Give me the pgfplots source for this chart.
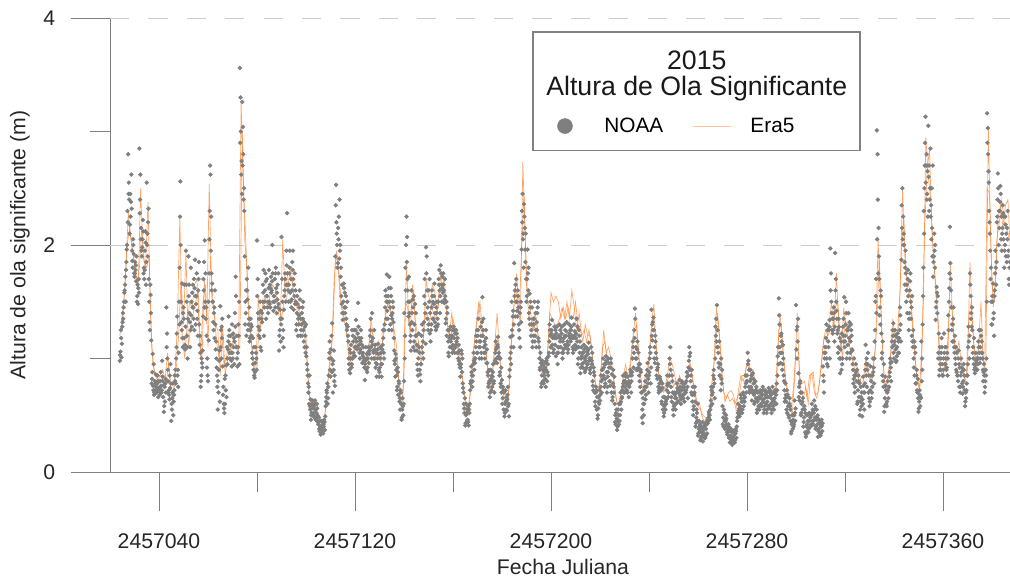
\documentclass[border=0pt]{standalone}
\usepackage{pgfplots}
\usepackage{pgfplotstable}
\usepackage{fontspec}
\setmainfont{Liberation Sans}
\pgfplotsset{compat=1.18}
\definecolor{axg}{HTML}{808080}
\definecolor{dot}{HTML}{7F7F7F}
\definecolor{era}{HTML}{FF7F27}
% NOAA: day (JD-2457000), seven samples per day in cm
\pgfplotstableread{
d a b c e f g h
24 98 106 125 101 113 103 118
25 128 140 135 150 158 132 145
26 160 172 150 185 196 165 178
27 200 220 280 255 240 230 245
28 210 245 225 262 232 218 238
29 195 180 205 192 175 186 200
30 172 185 178 168 190 175 182
31 150 165 148 170 158 155 162
32 285 240 262 215 195 228 205
33 190 205 222 175 180 198 212
34 170 195 212 165 185 178 202
35 255 210 190 232 170 200 220
36 150 125 165 140 116 132 156
37 78 88 104 72 95 82 76
38 68 80 72 86 75 70 78
39 70 78 85 66 74 72 80
40 72 68 80 88 76 74 70
41 70 98 84 66 76 72 80
42 53 75 62 82 70 58 78
43 145 122 100 80 70 110 90
44 72 64 85 95 78 68 74
45 45 55 65 78 50 60 70
46 62 72 85 90 78 68 80
47 100 122 137 90 75 110 85
48 105 130 180 256 200 150 225
49 150 125 166 110 140 132 118
50 145 118 165 108 128 135 112
51 195 150 120 100 135 165 110
52 190 165 140 110 125 155 132
53 180 150 128 145 165 138 158
54 145 170 125 187 155 135 162
55 130 155 175 142 120 148 135
56 160 185 130 120 105 170 112
57 75 85 100 92 107 80 96
58 137 160 185 204 150 170 145
59 175 145 120 100 85 135 92
60 80 116 175 230 270 150 205
61 262 225 175 166 150 195 160
62 150 125 140 118 160 132 145
63 130 115 100 85 75 108 92
64 55 70 90 107 62 80 98
65 146 125 100 118 135 110 128
66 93 75 60 52 82 68 56
67 60 72 94 110 100 85 66
68 95 115 137 125 105 108 120
69 100 120 105 93 130 112 98
70 105 122 110 95 115 100 118
71 140 172 155 120 100 128 110
72 93 110 130 150 95 105 120
73 356 330 300 274 245 290 262
74 326 304 280 250 230 270 240
75 190 150 140 120 170 130 160
76 160 125 180 135 145 152 130
77 115 125 135 120 128 118 130
78 105 118 95 110 85 100 90
79 83 96 110 100 90 88 105
80 204 170 140 120 135 155 128
81 125 150 110 107 135 118 142
82 140 150 165 178 120 132 158
83 145 160 175 135 155 150 168
84 170 145 150 162 178 155 140
85 150 165 145 172 158 148 162
86 160 200 175 142 155 168 150
87 155 170 145 180 162 150 175
88 140 152 165 175 148 158 145
89 107 125 143 115 130 120 135
90 207 170 150 125 110 135 118
91 143 160 175 150 165 155 170
92 195 228 175 160 150 182 165
93 165 180 195 150 170 175 158
94 145 160 185 195 170 152 178
95 143 155 175 160 150 165 148
96 125 140 155 120 135 130 148
97 130 145 160 120 135 138 152
98 125 140 120 135 150 130 145
99 125 132 110 120 105 115 128
100 130 110 95 85 78 102 90
101 70 60 85 55 64 75 58
102 46 52 60 63 56 50 58
103 50 58 48 63 55 52 60
104 46 52 60 50 44 48 56
105 42 48 38 45 40 44 36
106 33 38 45 36 42 35 40
107 34 40 46 37 49 42 44
108 58 66 72 78 60 62 70
109 65 85 100 115 90 75 105
110 84 100 120 131 95 108 88
111 70 90 107 85 76 98 80
112 190 253 220 200 180 235 210
113 184 205 225 240 195 215 188
114 200 180 155 165 140 172 148
115 134 150 166 145 158 140 162
116 140 155 135 125 150 145 130
117 128 115 100 90 108 120 95
118 87 100 112 95 125 105 92
119 100 115 105 125 110 120 102
120 102 125 134 115 108 118 110
121 110 149 128 118 105 122 112
122 100 115 125 105 112 108 118
123 96 105 110 100 92 102 98
124 81 98 110 90 104 95 100
125 88 100 110 96 104 92 106
126 107 125 135 115 100 120 110
127 140 118 107 100 125 112 105
128 100 112 92 105 84 108 96
129 95 108 113 90 84 100 104
130 88 100 110 95 84 92 105
131 95 112 125 105 100 108 118
132 125 145 160 135 150 130 155
133 174 150 135 162 125 142 155
134 172 145 130 155 138 150 162
135 125 140 150 132 118 135 145
136 107 95 84 100 90 98 104
137 85 75 92 68 80 72 88
138 78 65 55 70 60 62 72
139 46 55 65 50 60 48 58
140 80 100 120 160 200 140 180
141 225 207 170 150 137 185 160
142 172 150 130 120 107 140 115
143 160 140 125 145 110 132 152
144 155 130 107 120 140 115 148
145 120 107 95 85 100 112 90
146 122 105 90 80 95 110 86
147 95 110 130 115 100 120 105
148 125 155 170 140 113 132 148
149 198 190 160 145 125 175 135
150 130 150 170 140 115 160 122
151 125 145 160 135 150 130 155
152 135 155 166 140 128 148 132
153 125 140 150 135 130 145 128
154 150 165 178 140 155 170 160
155 182 165 150 172 158 175 162
156 175 160 149 170 155 165 152
157 131 150 120 140 125 135 145
158 115 102 125 110 120 105 118
159 128 110 118 105 125 115 120
160 112 128 118 105 122 108 125
161 110 125 115 105 118 112 122
162 105 112 98 107 92 100 95
163 84 95 107 88 100 92 104
164 78 70 60 52 65 74 56
165 41 50 60 45 55 43 52
166 46 58 41 52 60 44 55
167 72 80 93 85 75 78 88
168 80 95 105 90 100 85 98
169 96 110 120 105 125 100 115
170 105 125 135 115 100 120 110
171 110 128 120 100 132 115 105
172 154 125 135 105 115 120 110
173 100 112 125 96 108 105 118
174 96 85 75 90 80 88 78
175 66 80 90 72 85 70 82
176 75 88 95 80 70 84 78
177 96 105 115 100 110 98 108
178 96 110 119 105 100 112 102
179 85 100 78 92 70 88 75
180 81 65 75 55 70 60 72
181 49 60 72 55 66 52 62
182 54 68 75 60 49 64 58
183 84 100 119 95 110 90 105
184 150 120 137 110 130 125 142
185 184 160 137 150 170 155 165
186 150 137 160 145 130 142 155
187 125 140 110 150 132 118 145
188 196 220 245 210 180 230 205
189 236 215 196 210 170 225 185
190 150 170 196 160 180 155 175
191 140 157 130 150 120 135 145
192 125 145 110 135 120 130 115
193 130 150 115 140 125 135 120
194 110 125 140 150 118 132 145
195 115 100 90 105 96 110 92
196 75 85 98 80 90 78 94
197 78 88 96 82 75 85 92
198 90 100 80 95 85 98 88
199 102 115 130 120 110 105 125
200 110 125 134 118 105 122 112
201 105 120 128 112 125 108 118
202 102 118 128 95 110 122 105
203 105 120 130 115 125 110 118
204 110 122 128 100 115 118 105
205 105 118 130 112 125 108 120
206 110 124 132 115 105 120 112
207 108 120 130 118 125 112 122
208 115 128 136 120 110 125 118
209 105 118 130 124 112 108 120
210 108 122 135 115 128 118 110
211 95 110 125 105 115 100 120
212 87 100 110 95 105 92 102
213 92 105 112 100 88 96 108
214 90 102 110 95 106 98 92
215 95 108 114 100 90 104 98
216 87 100 110 95 105 92 98
217 80 72 92 85 70 76 88
218 62 70 75 55 66 58 72
219 47 56 66 60 72 50 62
220 63 75 85 70 90 68 80
221 90 100 85 95 75 82 92
222 82 95 102 88 70 78 98
223 75 88 100 92 80 84 96
224 80 92 100 70 86 76 96
225 63 78 90 70 84 66 75
226 60 50 42 55 47 44 52
227 37 45 55 42 60 40 50
228 45 60 70 55 65 50 62
229 66 75 85 70 80 72 78
230 70 80 87 72 78 75 84
231 72 84 78 66 80 70 76
232 75 85 90 70 80 78 88
233 85 100 115 92 105 88 110
234 125 144 135 110 90 118 100
235 100 115 90 105 95 108 92
236 85 95 75 88 70 80 90
237 70 55 43 60 50 48 65
238 60 75 80 68 85 72 64
239 75 90 96 82 70 85 78
240 85 100 110 78 92 88 105
241 143 130 116 125 136 120 132
242 125 110 96 115 105 100 120
243 100 90 82 95 75 85 92
244 70 78 84 74 80 72 82
245 72 60 78 55 66 62 74
246 49 58 66 55 62 52 60
247 60 72 85 78 66 64 76
248 70 85 100 110 90 78 95
249 75 62 85 70 55 66 80
250 50 60 70 65 55 58 68
251 60 70 78 62 72 65 74
252 62 70 81 75 66 72 68
253 60 72 80 68 75 64 78
254 65 75 62 78 70 68 72
255 70 80 88 75 65 72 84
256 85 98 110 90 105 92 102
257 80 70 90 62 75 85 68
258 50 58 68 75 62 55 70
259 40 48 55 45 60 43 52
260 32 38 45 36 42 34 40
261 28 35 40 32 44 30 38
262 27 33 38 30 42 35 40
263 30 38 44 34 46 32 42
264 43 48 53 50 46 45 51
265 55 63 75 68 60 58 72
266 70 85 90 78 65 75 82
267 100 120 135 147 110 128 115
268 125 105 96 115 85 110 92
269 85 72 100 78 90 95 82
270 58 48 40 52 45 42 55
271 38 45 50 42 35 40 47
272 33 38 42 30 36 35 40
273 26 32 38 28 35 30 36
274 24 30 36 28 34 26 32
275 26 34 38 30 40 28 36
276 45 52 60 50 56 48 54
277 49 58 68 55 62 52 65
278 52 62 70 58 65 55 68
279 62 75 85 70 80 66 78
280 85 105 95 75 90 80 98
281 70 80 90 75 85 72 82
282 63 72 87 78 68 70 82
283 60 70 80 65 75 62 72
284 52 62 70 58 66 55 64
285 55 65 72 60 68 58 70
286 58 68 75 62 52 64 72
287 55 65 72 60 70 58 68
288 52 62 70 58 74 55 66
289 56 66 72 60 68 58 70
290 52 64 75 58 70 55 62
291 55 65 72 60 68 62 70
292 60 72 85 110 95 78 102
293 153 130 110 96 120 138 105
294 122 105 90 112 100 115 95
295 85 72 62 78 68 80 65
296 62 72 52 66 58 55 68
297 50 60 65 55 45 48 58
298 34 42 50 38 46 36 44
299 40 50 63 45 56 42 52
300 147 125 100 115 135 108 128
301 87 75 63 80 70 66 78
302 50 60 70 55 65 52 62
303 40 48 58 35 52 44 55
304 31 40 50 36 45 33 42
305 35 45 52 40 48 38 50
306 40 50 60 45 55 42 52
307 42 52 63 48 58 45 55
308 38 46 55 42 50 40 48
309 31 38 46 34 42 36 44
310 32 40 46 36 43 34 41
311 93 80 70 100 110 85 105
312 105 118 130 95 125 110 100
313 93 110 125 134 100 115 128
314 197 175 150 125 135 160 140
315 122 135 145 115 128 125 140
316 193 170 150 135 122 160 142
317 125 110 135 100 118 105 128
318 87 100 115 122 95 108 90
319 100 120 135 154 110 128 115
320 115 130 150 100 125 120 140
321 105 125 140 118 132 112 128
322 100 115 130 120 108 105 125
323 107 90 78 100 85 95 82
324 70 85 95 80 90 75 88
325 60 72 85 66 78 62 80
326 50 62 75 58 70 55 66
327 49 60 84 70 55 64 76
328 70 90 112 85 100 78 95
329 75 95 105 85 65 90 70
330 58 72 93 80 65 62 85
331 70 85 100 92 78 75 88
332 100 125 150 170 140 115 155
333 301 280 240 215 190 205 175
334 170 145 130 155 122 138 160
335 100 85 115 75 95 105 80
336 53 65 84 72 60 58 76
337 58 70 80 65 75 62 72
338 75 88 100 92 80 84 96
339 97 110 125 131 105 115 120
340 100 115 125 108 97 112 120
341 98 110 122 105 115 102 118
342 105 125 145 130 115 118 138
343 187 215 250 225 200 235 205
344 210 185 165 195 175 200 180
345 150 165 140 178 155 160 170
346 125 140 160 175 150 135 168
347 135 120 155 110 125 145 115
348 100 115 85 105 78 92 110
349 78 90 72 82 65 85 70
350 53 62 72 58 66 56 68
351 65 80 100 130 155 115 90
352 180 210 250 290 313 230 270
353 255 280 240 265 225 270 245
354 305 270 230 250 285 260 240
355 225 205 250 190 270 235 215
356 172 190 210 180 200 185 195
357 134 150 163 140 155 145 158
358 100 122 85 110 95 105 90
359 90 105 118 95 85 100 110
360 85 100 122 95 110 90 105
361 95 110 90 105 85 100 92
362 100 125 150 175 216 138 162
363 184 160 145 130 115 170 125
364 130 145 115 105 120 135 110
365 100 110 90 105 85 95 88
366 85 100 107 75 92 80 95
367 70 85 100 92 78 75 88
368 69 80 95 85 72 75 90
369 58 70 65 78 85 62 72
370 85 110 128 100 120 95 115
371 175 155 135 128 145 165 140
372 125 110 100 118 90 105 95
373 87 95 105 90 100 92 98
374 90 100 115 125 105 95 110
375 96 110 125 105 115 100 120
376 105 90 80 95 85 100 88
377 70 80 90 100 150 75 85
378 316 303 280 255 230 290 265
379 220 195 170 150 130 210 180
380 130 150 166 140 120 155 135
381 155 175 195 165 185 160 180
382 220 240 263 200 230 225 250
383 215 238 252 205 225 230 245
384 195 215 235 205 225 210 228
385 180 200 225 190 210 195 218
386 185 205 230 195 170 215 190
387 165 185 205 175 195 180 200
}\noaa
% Era5: day and two readings per day in cm
\pgfplotstableread{
d u v
24 120 131
25 135 145
26 160 180
27 200 230
28 215 205
29 200 190
30 185 175
31 165 160
32 180 250
33 215 190
34 185 180
35 180 238
36 190 140
37 110 95
38 90 85
39 85 80
40 80 85
41 82 90
42 78 82
43 80 105
44 95 80
45 72 62
46 72 85
47 90 130
48 120 225
49 170 120
50 130 100
51 193 130
52 110 150
53 130 145
54 140 165
55 150 170
56 160 120
57 100 95
58 150 170
59 165 130
60 110 254
61 190 155
62 150 140
63 130 115
64 125 100
65 85 125
66 130 95
67 85 100
68 100 115
69 110 105
70 110 120
71 115 110
72 110 105
73 110 326
74 300 250
75 205 200
76 175 140
77 125 120
78 110 95
79 90 85
80 90 155
81 140 125
82 135 150
83 155 150
84 150 145
85 150 160
86 150 165
87 150 160
88 150 145
89 145 130
90 135 205
91 150 155
92 150 175
93 170 175
94 180 165
95 155 150
96 150 145
97 130 140
98 135 125
99 130 120
100 120 95
101 75 65
102 60 62
103 62 58
104 52 48
105 45 42
106 42 40
107 42 45
108 55 70
109 80 95
110 100 110
111 125 170
112 190 195
113 185 175
114 150 145
115 145 135
116 130 125
117 115 100
118 95 105
119 105 100
120 110 125
121 120 115
122 115 105
123 105 100
124 100 105
125 100 95
126 120 135
127 125 118
128 110 100
129 105 115
130 100 95
131 110 125
132 130 140
133 145 150
134 150 140
135 135 130
136 125 105
137 110 90
138 75 62
139 58 55
140 85 150
141 185 145
142 130 120
143 145 165
144 160 135
145 110 120
146 115 105
147 95 110
148 120 135
149 170 140
150 155 130
151 150 165
152 140 160
153 135 140
154 145 165
155 175 165
156 160 170
157 150 135
158 125 120
159 115 140
160 135 120
161 125 115
162 112 100
163 100 90
164 80 70
165 62 55
166 52 50
167 70 85
168 95 110
169 120 130
170 135 150
171 150 125
172 125 120
173 115 105
174 95 85
175 75 70
176 85 95
177 110 120
178 140 115
179 105 90
180 75 65
181 65 60
182 62 60
183 75 105
184 120 135
185 150 165
186 175 145
187 140 130
188 195 273
189 245 205
190 165 150
191 135 145
192 135 125
193 125 140
194 135 125
195 115 100
196 95 85
197 85 80
198 85 100
199 120 140
200 158 135
201 150 130
202 155 130
203 150 135
204 135 145
205 145 135
206 135 150
207 145 135
208 135 160
209 135 145
210 150 125
211 130 140
212 125 120
213 115 125
214 130 115
215 120 125
216 120 110
217 100 90
218 80 70
219 70 72
220 80 90
221 110 125
222 115 105
223 100 110
224 95 100
225 90 85
226 75 65
227 60 58
228 62 70
229 75 85
230 85 95
231 85 80
232 85 100
233 105 120
234 125 140
235 130 110
236 100 85
237 75 70
238 70 85
239 85 90
240 95 115
241 130 135
242 148 125
243 105 95
244 85 80
245 78 75
246 70 75
247 75 85
248 85 100
249 90 95
250 75 85
251 80 75
252 75 85
253 80 78
254 75 78
255 78 85
256 85 95
257 95 85
258 80 72
259 68 60
260 58 62
261 55 50
262 50 45
263 48 45
264 45 50
265 60 75
266 85 95
267 105 145
268 140 125
269 115 95
270 80 70
271 62 65
272 68 70
273 62 72
274 65 68
275 60 55
276 65 72
277 70 85
278 85 80
279 85 90
280 95 100
281 90 85
282 85 90
283 82 78
284 75 70
285 70 72
286 72 70
287 72 68
288 70 72
289 70 68
290 68 72
291 70 68
292 72 105
293 125 140
294 130 110
295 100 85
296 78 72
297 68 60
298 55 50
299 75 85
300 110 140
301 105 80
302 70 78
303 65 80
304 75 65
305 60 85
306 85 87
307 88 70
308 68 65
309 70 78
310 85 100
311 110 120
312 125 115
313 120 130
314 125 150
315 130 125
316 145 175
317 150 125
318 120 105
319 100 145
320 135 125
321 120 115
322 110 105
323 100 95
324 90 95
325 85 90
326 80 78
327 85 80
328 85 100
329 95 85
330 85 80
331 80 95
332 100 110
333 130 205
334 190 150
335 125 100
336 80 70
337 75 85
338 90 100
339 110 135
340 125 115
341 118 125
342 130 160
343 195 250
344 225 185
345 175 160
346 165 155
347 150 130
348 120 100
349 90 85
350 75 72
351 80 120
352 150 215
353 295 265
354 260 285
355 240 210
356 195 180
357 160 150
358 135 100
359 90 85
360 85 90
361 95 100
362 100 140
363 185 150
364 130 115
365 110 105
366 100 115
367 100 95
368 90 85
369 80 85
370 90 135
371 185 150
372 130 115
373 100 95
374 100 110
375 120 150
376 115 95
377 85 95
378 250 305
379 245 200
380 165 145
381 150 170
382 205 225
383 220 235
384 240 215
385 220 235
386 215 240
387 205 195
}\eradata
\begin{document}
\begin{tikzpicture}
\useasboundingbox (-82.5pt,-81pt) rectangle (675pt,354pt);
\begin{axis}[
  scale only axis, width=675pt, height=340.5pt,
  xmin=20, xmax=387.35, ymin=0, ymax=4,
  axis x line*=bottom, axis y line*=left,
  axis line style={-, draw=axg, line width=0.7pt},
  xtick={40,120,200,280,360},
  xticklabels={2457040,2457120,2457200,2457280,2457360},
  minor xtick={80,160,240,320},
  ytick={0,2,4}, minor ytick={1,3},
  major tick length=29.5pt, minor tick length=15pt,
  tick style={draw=axg, line width=0.7pt},
  every tick/.style={draw=axg, line width=0.7pt},
  minor tick style={draw=axg, line width=0.7pt},
  tick align=outside,
  tick label style={font=\fontsize{15.9pt}{18pt}\selectfont, text=black!85},
  /pgf/number format/assume math mode=true,
  xticklabel shift=13pt,
  yticklabel shift=8pt,
  xlabel={Fecha Juliana},
  ylabel={Altura de ola significante (m)},
  xlabel style={font=\fontsize{15.9pt}{18pt}\selectfont, text=black!85, at={(axis description cs:0.5033,0)}, anchor=center, yshift=-71pt},
  ylabel style={font=\fontsize{15.9pt}{18pt}\selectfont, text=black!85, at={(axis description cs:0,0.5)}, anchor=center, yshift=67.5pt},
  legend style={draw=none, fill=none, at={(rel axis cs:0.4922,0.762)}, anchor=west,
    font=\fontsize{15.6pt}{18pt}\selectfont, legend columns=2,
    /tikz/every even column/.append style={column sep=20pt}},
  legend cell align=left,
]
\addplot[forget plot, color=black!20, line width=0.7pt, dash pattern=on 14.4pt off 14.4pt] coordinates {(20,2)(387.35,2)};
\addplot[forget plot, color=black!20, line width=0.7pt, dash pattern=on 14.4pt off 14.4pt] coordinates {(20,4)(387.35,4)};
\pgfplotsset{nm/.style={only marks, mark=*, mark size=1.45pt, color=dot, mark options={draw=none, fill=dot}}}
\addplot[nm, forget plot] table[x expr=\thisrow{d}, y expr=\thisrow{a}/100] {\noaa};
\addplot[nm, forget plot] table[x expr=\thisrow{d}+0.14, y expr=\thisrow{g}/100] {\noaa};
\addplot[nm, forget plot] table[x expr=\thisrow{d}+0.28, y expr=\thisrow{b}/100] {\noaa};
\addplot[nm, forget plot] table[x expr=\thisrow{d}+0.42, y expr=\thisrow{c}/100] {\noaa};
\addplot[nm, forget plot] table[x expr=\thisrow{d}+0.56, y expr=\thisrow{h}/100] {\noaa};
\addplot[nm, forget plot] table[x expr=\thisrow{d}+0.70, y expr=\thisrow{e}/100] {\noaa};
\addplot[nm, forget plot] table[x expr=\thisrow{d}+0.84, y expr=\thisrow{f}/100] {\noaa};
\addplot[forget plot, color=era, opacity=0.7, line width=0.5pt, no marks] table[x expr=\thisrow{d}, y expr=\thisrow{u}/100] {\eradata};
\addplot[forget plot, color=era, opacity=0.7, line width=0.5pt, no marks] table[x expr=\thisrow{d}+0.5, y expr=\thisrow{v}/100] {\eradata};
\draw[draw=axg, line width=0.9pt, fill=white] (rel axis cs:0.47,0.709) rectangle (rel axis cs:0.8333,0.969);
\node[font=\fontsize{20pt}{24pt}\selectfont, text=black!90] at (rel axis cs:0.652,0.9075) {2015};
\node[font=\fontsize{20pt}{24pt}\selectfont, text=black!90] at (rel axis cs:0.652,0.8436) {Altura de Ola Significante};
\addlegendimage{legend image code/.code={\fill[dot] (0,0) circle (5.6pt); \path[draw=none] (0,0) -- (27.5pt,0);}}
\addlegendentry{NOAA}
\addlegendimage{legend image code/.code={\draw[color=era!45, line width=0.8pt] (0,0) -- (28.5pt,0); \path[draw=none] (0,0) -- (41pt,0);}}
\addlegendentry{Era5}
\end{axis}
\end{tikzpicture}
\end{document}
